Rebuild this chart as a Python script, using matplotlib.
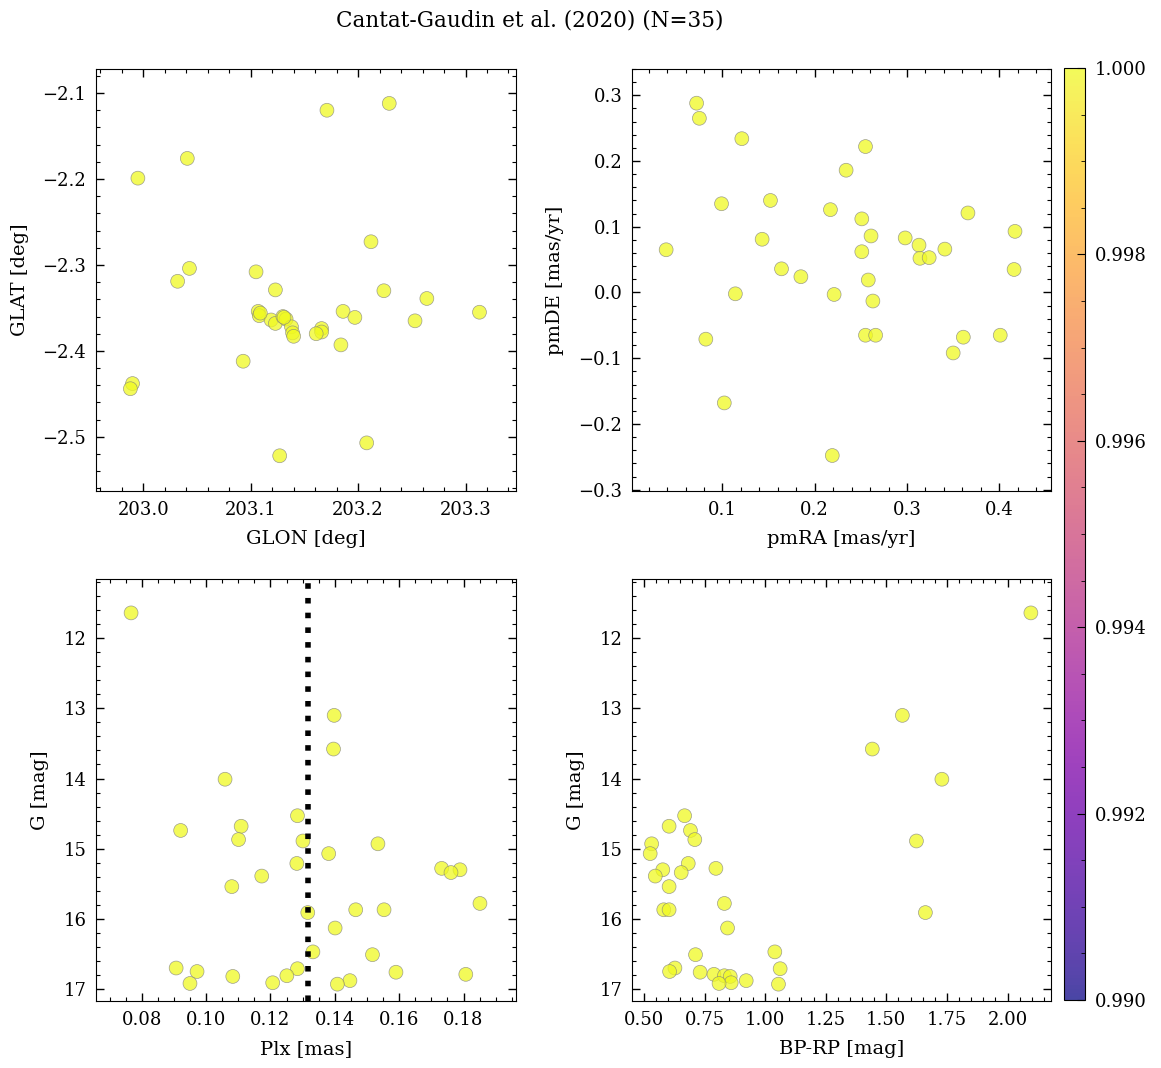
import matplotlib
matplotlib.use("Agg")
import matplotlib.pyplot as plt
from matplotlib.ticker import AutoMinorLocator, MultipleLocator
import numpy as np

plt.rcParams['font.family'] = ['DejaVu Serif']
plt.rcParams['font.size'] = 13

# positions
glon = [203.171, 203.229, 203.041, 202.995, 203.212, 203.043, 203.032, 203.105,
        203.123, 203.224, 203.264, 203.313, 203.186, 203.197, 203.253, 203.107,
        203.108, 203.119, 203.123, 203.130, 203.133, 203.138, 203.139, 203.140,
        203.166, 203.166, 203.161, 203.184, 203.093, 202.990, 202.988, 203.208,
        203.127, 203.109, 203.131]
glat = [-2.120, -2.112, -2.176, -2.199, -2.273, -2.304, -2.319, -2.308,
        -2.329, -2.330, -2.339, -2.355, -2.354, -2.361, -2.365, -2.354,
        -2.359, -2.364, -2.368, -2.360, -2.363, -2.372, -2.379, -2.383,
        -2.374, -2.378, -2.380, -2.393, -2.412, -2.438, -2.444, -2.507,
        -2.522, -2.356, -2.361]

# proper motions
pmra = [0.072, 0.075, 0.121, 0.255, 0.234, 0.099, 0.152, 0.217, 0.251, 0.366,
        0.261, 0.298, 0.417, 0.143, 0.313, 0.341, 0.039, 0.251, 0.314, 0.324,
        0.416, 0.164, 0.185, 0.258, 0.114, 0.221, 0.263, 0.082, 0.255, 0.266,
        0.361, 0.401, 0.350, 0.102, 0.219]
pmde = [0.288, 0.265, 0.234, 0.222, 0.186, 0.135, 0.140, 0.126, 0.112, 0.121,
        0.086, 0.083, 0.093, 0.081, 0.072, 0.066, 0.065, 0.062, 0.052, 0.053,
        0.035, 0.036, 0.024, 0.019, -0.002, -0.003, -0.013, -0.071, -0.065, -0.065,
        -0.068, -0.065, -0.092, -0.168, -0.248]

# photometry / parallax (same star order)
gmag = [11.64, 13.10, 13.58, 14.01, 14.53, 14.68, 14.74, 14.87, 14.89, 14.93,
        15.07, 15.21, 15.28, 15.30, 15.34, 15.39, 15.54, 15.78, 15.87, 15.87,
        15.91, 16.13, 16.47, 16.51, 16.70, 16.71, 16.75, 16.76, 16.79, 16.81,
        16.82, 16.88, 16.91, 16.92, 16.93]
plx = [0.0767, 0.1398, 0.1396, 0.1059, 0.1284, 0.1109, 0.0921, 0.1101, 0.1301, 0.1534,
       0.1381, 0.1282, 0.1732, 0.1789, 0.1761, 0.1173, 0.1080, 0.1851, 0.1465, 0.1553,
       0.1316, 0.1401, 0.1332, 0.1517, 0.0907, 0.1284, 0.0972, 0.1590, 0.1807, 0.1251,
       0.1083, 0.1447, 0.1207, 0.0950, 0.1408]
bprp = [2.096, 1.566, 1.442, 1.729, 0.668, 0.604, 0.692, 0.710, 1.624, 0.532,
        0.526, 0.683, 0.797, 0.578, 0.654, 0.547, 0.604, 0.832, 0.582, 0.604,
        1.661, 0.845, 1.040, 0.713, 0.628, 1.062, 0.606, 0.732, 0.789, 0.832,
        0.856, 0.922, 0.860, 0.810, 1.055]
prob = np.ones(len(gmag))
plx_mean = 0.1316

W, H = 1161, 1068
fig = plt.figure(figsize=(W / 100, H / 100), dpi=100)

def box(l, t, r, b):
    return [l / W, 1 - b / H, (r - l) / W, (b - t) / H]

ax1 = fig.add_axes(box(96, 69, 516, 491))
ax2 = fig.add_axes(box(632, 69, 1051, 491))
ax3 = fig.add_axes(box(96, 579, 516, 1001))
ax4 = fig.add_axes(box(632, 579, 1051, 1001))
cax = fig.add_axes(box(1064, 68, 1085, 1000))

kw = dict(c=prob, cmap='plasma', vmin=0.99, vmax=1.0, s=100, alpha=0.75,
          edgecolors='gray', linewidths=0.5)

sc = ax1.scatter(glon, glat, **kw)
ax1.set_xlim(202.956, 203.347)
ax1.set_ylim(-2.563, -2.072)
ax1.set_xlabel('GLON [deg]', fontsize=14, labelpad=8)
ax1.set_ylabel('GLAT [deg]', fontsize=14, labelpad=10)
ax1.xaxis.set_major_locator(MultipleLocator(0.1))

ax2.scatter(pmra, pmde, **kw)
ax2.set_xlim(0.002, 0.456)
ax2.set_ylim(-0.302, 0.340)
ax2.set_xlabel('pmRA [mas/yr]', fontsize=14, labelpad=8)
ax2.set_ylabel('pmDE [mas/yr]', fontsize=14, labelpad=10)

ax3.scatter(plx, gmag, **kw)
ax3.axvline(plx_mean, color='k', linestyle=':', linewidth=4)
ax3.set_xlim(0.0658, 0.1963)
ax3.set_ylim(17.17, 11.157)
ax3.set_xlabel('Plx [mas]', fontsize=14, labelpad=8)
ax3.set_ylabel('G [mag]', fontsize=14, labelpad=10)

ax4.scatter(bprp, gmag, **kw)
ax4.set_xlim(0.451, 2.179)
ax4.set_ylim(17.17, 11.157)
ax4.set_xlabel('BP-RP [mag]', fontsize=14, labelpad=8)
ax4.set_ylabel('G [mag]', fontsize=14, labelpad=10)

for ax in (ax1, ax2, ax3, ax4):
    ax.xaxis.set_minor_locator(AutoMinorLocator())
    ax.yaxis.set_minor_locator(AutoMinorLocator())
    ax.tick_params(which='both', direction='in', top=True, right=True, pad=7)
    ax.tick_params(which='major', length=6, width=1)
    ax.tick_params(which='minor', length=3, width=0.8)

cb = fig.colorbar(sc, cax=cax)
cb.set_ticks([0.990, 0.992, 0.994, 0.996, 0.998, 1.000])
cb.ax.yaxis.set_minor_locator(MultipleLocator(0.0005))
cb.ax.set_yticklabels(['0.990', '0.992', '0.994', '0.996', '0.998', '1.000'])
cb.ax.tick_params(which='both', direction='in', pad=7)
cb.ax.tick_params(which='major', length=6)
cb.ax.tick_params(which='minor', length=3)

fig.text(530 / W, 1 - 20 / H, 'Cantat-Gaudin et al. (2020) (N=35)',
         ha='center', va='center', fontsize=15.5)

fig.savefig('out.png', dpi=100)
